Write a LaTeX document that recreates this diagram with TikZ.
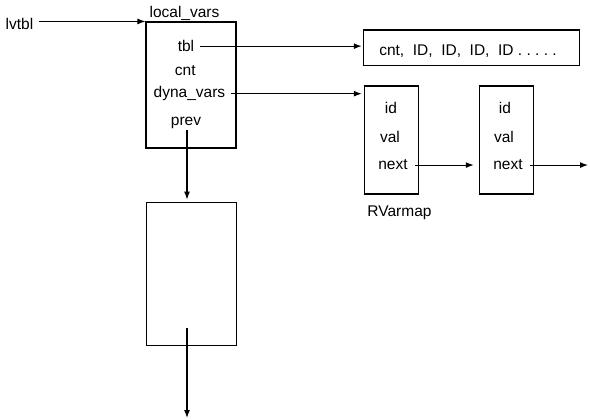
\documentclass[tikz,border=0pt]{standalone}
\usepackage{fontspec}
\setmainfont{Liberation Sans}
\usetikzlibrary{arrows.meta}
\begin{document}
\begin{tikzpicture}[x=1pt,y=-1pt,
  lbl/.style={anchor=base,inner sep=0pt,font=\fontsize{15.5}{18}\selectfont},
  box/.style={draw,line width=1.1pt,inner sep=0pt},
  arr/.style={line width=1.1pt,-{Latex[length=8pt,width=6pt]}}]
\useasboundingbox (0,0) rectangle (590,420);
% boxes
\node[box,minimum width=90pt,minimum height=126pt] (lv) at (191,85) {};
\node[box,minimum width=90.4pt,minimum height=143.7pt] (low) at (191.5,274) {};
\node[box,minimum width=216pt,minimum height=35.7pt] (ids) at (471.3,47.85) {};
\node[box,minimum width=54.4pt,minimum height=108pt] (r1) at (391.5,140) {};
\node[box,minimum width=54pt,minimum height=108pt] (r2) at (506.3,140) {};
% texts
\node[lbl] (lvtbl) at (19.5,30) {lvtbl};
\node[lbl] (lvname) at (184.5,17.7) {local\_vars};
\node[lbl] (tbl) at (186,51.7) {tbl};
\node[lbl] (cnt) at (185.3,76) {cnt};
\node[lbl] (dyna) at (189.5,97.7) {dyna\_vars};
\node[lbl] (prev) at (186,125) {prev};
\node[lbl] (idlist) at (468,56) {cnt,\ \ ID,\ \ ID,\ \ ID,\ \ ID\ .\ .\ .\ .\ .};
\node[lbl] (id1) at (391,113.3) {id};
\node[lbl] (val1) at (390,142.3) {val};
\node[lbl] (next1) at (393,170) {next};
\node[lbl] (id2) at (505,113.3) {id};
\node[lbl] (val2) at (504,142.3) {val};
\node[lbl] (next2) at (508,170) {next};
\node[lbl] (rv) at (399.5,216.7) {RVarmap};
% free ends
\coordinate (endr) at (588,164.3);
\coordinate (lowstart) at (187,328);
\coordinate (lowend) at (187,418);
% connectors
\draw[arr] ([xshift=6pt]lvtbl.east |- lv.north west) -- (lv.north west);
\draw[arr,shorten <=6pt,shorten >=1pt] (tbl.east) -- (tbl.east -| ids.west);
\draw[arr,shorten <=6pt,shorten >=2pt] (dyna.east) -- (dyna.east -| r1.west);
\draw[arr,shorten <=7pt,shorten >=5pt] (next1.east) -- (next1.east -| r2.west);
\draw[arr,shorten <=7pt] (next2.east) -- (next2.east -| endr);
\draw[arr,shorten <=2pt,shorten >=2pt] ([xshift=1pt]prev.south) -- ([xshift=1pt]prev.south |- low.north);
\draw[arr] (lowstart) -- (lowend);
\end{tikzpicture}
\end{document}
